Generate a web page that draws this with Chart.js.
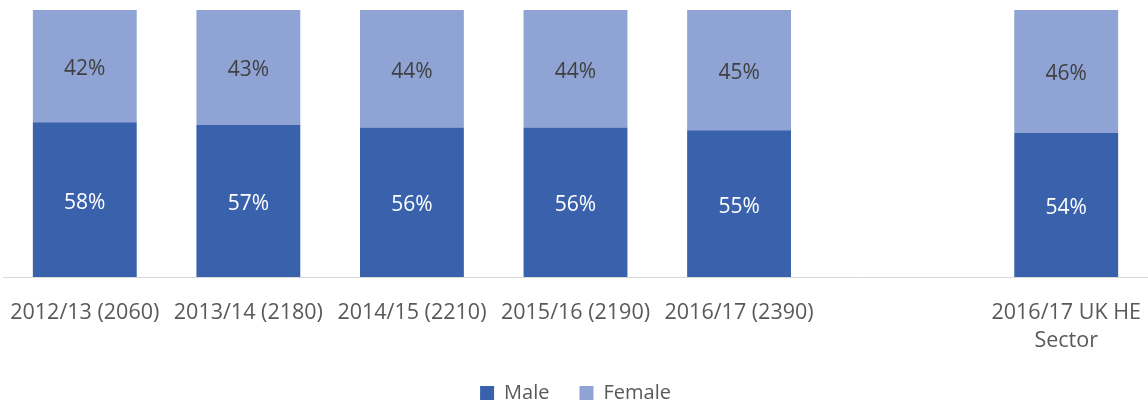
<!DOCTYPE html>
<html>
<head>
<meta charset="utf-8">
<script src="https://cdn.jsdelivr.net/npm/chart.js@4"></script>
<style>
html,body{margin:0;padding:0;background:#fff;}
#wrap{width:1148px;height:405px;position:relative;}
</style>
</head>
<body>
<div id="wrap"><canvas id="c" width="1148" height="405"></canvas></div>
<script>
const categories = ['2012/13 (2060)', '2013/14 (2180)', '2014/15 (2210)', '2015/16 (2190)', '2016/17 (2390)', '', ['2016/17 UK HE', 'Sector']];
const maleValues = [58, 57, 56, 56, 55, null, 54];
const femaleValues = [42, 43, 44, 44, 45, null, 46];
const seriesNames = ['Male', 'Female'];

const FONT = "'Open Sans', sans-serif";

const labelPlugin = {
  id: 'barLabels',
  afterDatasetsDraw(chart) {
    const ctx = chart.ctx;
    ctx.save();
    ctx.font = '21px ' + FONT;
    ctx.textAlign = 'center';
    ctx.textBaseline = 'middle';
    chart.data.datasets.forEach((ds, i) => {
      const meta = chart.getDatasetMeta(i);
      meta.data.forEach((el, j) => {
        const v = ds.data[j];
        if (v == null) return;
        const p = el.getProps(['x', 'y', 'base'], true);
        ctx.fillStyle = i === 0 ? '#ffffff' : '#404040';
        ctx.fillText(v + '%', p.x, (p.y + p.base) / 2 + 3);
      });
    });
    ctx.restore();
  }
};

new Chart(document.getElementById('c'), {
  type: 'bar',
  data: {
    labels: categories,
    datasets: [
      { label: seriesNames[0], data: maleValues, backgroundColor: '#3A62AC', borderWidth: 0 },
      { label: seriesNames[1], data: femaleValues, backgroundColor: '#8FA4D5', borderWidth: 0 }
    ]
  },
  options: {
    responsive: false,
    animation: false,
    maintainAspectRatio: false,
    layout: { padding: { left: 3, right: 0, top: 10, bottom: -8 } },
    datasets: { bar: { categoryPercentage: 1, barPercentage: 0.635 } },
    scales: {
      x: {
        stacked: true,
        grid: { display: false, drawTicks: false },
        border: { display: true, color: '#d9d9d9', width: 1 },
        ticks: {
          color: '#595959',
          font: { family: FONT, size: 21.5, lineHeight: 1.3 },
          padding: 22,
          maxRotation: 0,
          minRotation: 0,
          autoSkip: false
        },
        afterFit(scale) { scale.height = 76; scale.paddingLeft = 0; scale.paddingRight = 0; }
      },
      y: {
        stacked: true,
        display: false,
        min: 0,
        max: 100
      }
    },
    plugins: {
      legend: {
        position: 'bottom',
        labels: {
          color: '#595959',
          font: { family: FONT, size: 20 },
          boxWidth: 14,
          boxHeight: 14,
          padding: 30
        }
      },
      tooltip: { enabled: false }
    }
  },
  plugins: [labelPlugin]
});
</script>
</body>
</html>
